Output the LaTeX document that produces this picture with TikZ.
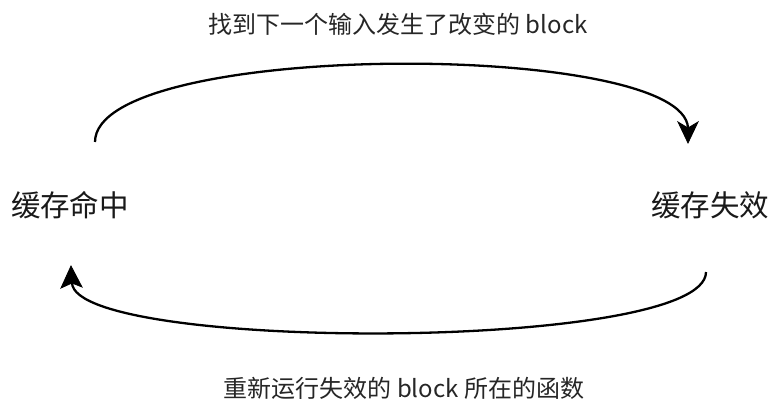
\documentclass[tikz,border=0pt]{standalone}
\usepackage{fontspec}
\setmainfont{Noto Sans CJK SC}
\tikzset{
  lbl/.style={inner sep=0pt, font=\fontsize{24}{28}\selectfont, text=black!85},
  state/.style={inner sep=0pt, font=\fontsize{29.5}{34}\selectfont, text=black!90},
  flow/.style={line width=2.3pt},
  headfill/.style={fill=black, draw=black, line width=0.8pt, line join=miter}
}
\begin{document}
\begin{tikzpicture}[x=1pt,y=-1pt]
\useasboundingbox (0,0) rectangle (772,404);
\node[state] (hit) at (70,205) {缓存命中};
\node[state] (miss) at (710,205) {缓存失效};
\node[lbl] (top) at (398,24) {找到下一个输入发生了改变的 block};
\node[lbl] (bot) at (404,388) {重新运行失效的 block 所在的函数};
\coordinate (a1) at (95,142);
\coordinate (a2) at (688,128);
\coordinate (ta) at (688,143);
\coordinate (b1) at (706,272);
\coordinate (b2) at (72,283);
\coordinate (tb) at (71,266);
\draw[flow] (a1) .. controls (95,40) and (684,40) .. (a2);
\draw[flow] (b1) .. controls (706,352) and (76,352) .. (b2);
\fill[headfill] (ta) -- (678,122) -- (a2) -- (698,122) -- cycle;
\fill[headfill] (tb) -- (61,288) -- (b2) -- (82,287) -- cycle;
\end{tikzpicture}
\end{document}
